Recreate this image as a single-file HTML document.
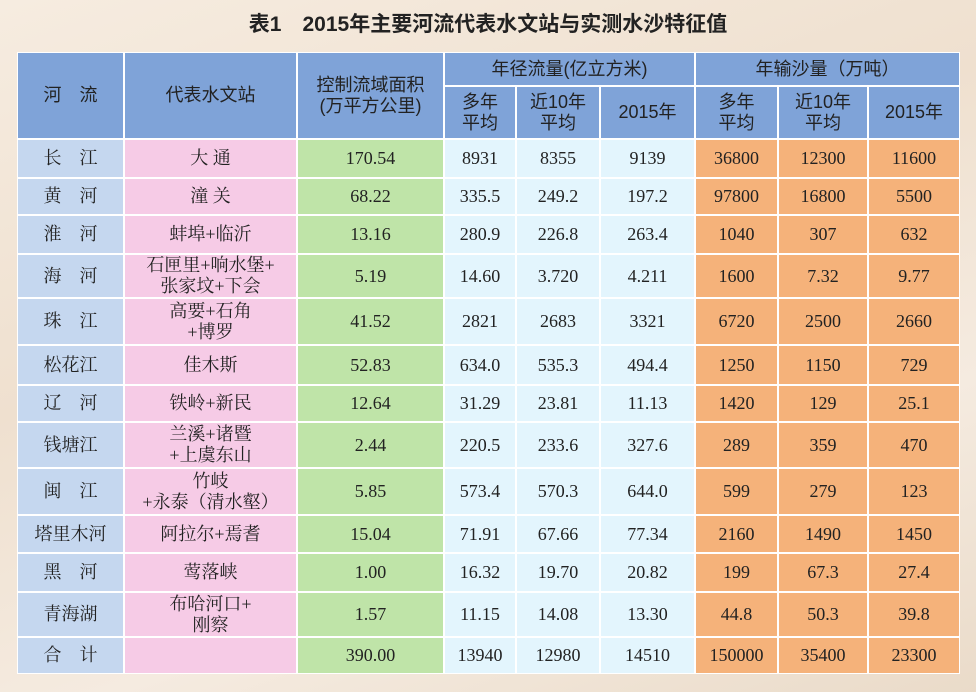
<!DOCTYPE html>
<html><head><meta charset="utf-8"><style>
body{margin:0;width:976px;height:692px;overflow:hidden;background:linear-gradient(160deg,#f6ece0 0%,#efe0cf 40%,#f5ebe0 70%,#eadbc9 100%);position:relative;font-family:"Liberation Serif","Noto Serif CJK SC",serif;}
.t{position:absolute;top:8px;left:0;width:976px;text-align:center;font:bold 21px "Liberation Sans","Noto Sans CJK SC",sans-serif;color:#222;}
.c{position:absolute;box-sizing:border-box;border:1px solid #fff;display:flex;align-items:center;justify-content:center;text-align:center;font-size:18px;color:#222;line-height:21px;}
.h{background:#7fa3d8;font-family:"Liberation Sans","Noto Sans CJK SC",sans-serif;}
</style></head><body>
<div class="t">表1　2015年主要河流代表水文站与实测水沙特征值</div>
<div id="g"></div>
<script>
const X=[17,124,297,444,516,600,695,778,868,960];
const Y=[139,178,215,254,298,345,385,422,468,515,553,592,637,674];
const g=document.getElementById('g');
function cell(x1,y1,x2,y2,txt,cls,bg){const d=document.createElement('div');d.className='c '+(cls||'');d.style.cssText=`left:${x1}px;top:${y1}px;width:${x2-x1}px;height:${y2-y1}px;`+(bg?`background:${bg};`:'');d.innerHTML=txt;g.appendChild(d);}
cell(X[0],52,X[1],139,'河　流','h');
cell(X[1],52,X[2],139,'代表水文站','h');
cell(X[2],52,X[3],139,'控制流域面积<br>(万平方公里)','h');
cell(X[3],52,X[6],86,'年径流量(亿立方米)','h');
cell(X[6],52,X[9],86,'年输沙量（万吨）','h');
const sub=['多年<br>平均','近10年<br>平均','2015年'];
for(let i=0;i<3;i++){cell(X[3+i],86,X[4+i],139,sub[i],'h');cell(X[6+i],86,X[7+i],139,sub[i],'h');}
const R=[
['长　江','大 通','170.54','8931','8355','9139','36800','12300','11600'],
['黄　河','潼 关','68.22','335.5','249.2','197.2','97800','16800','5500'],
['淮　河','蚌埠+临沂','13.16','280.9','226.8','263.4','1040','307','632'],
['海　河','石匣里+响水堡+<br>张家坟+下会','5.19','14.60','3.720','4.211','1600','7.32','9.77'],
['珠　江','高要+石角<br>+博罗','41.52','2821','2683','3321','6720','2500','2660'],
['松花江','佳木斯','52.83','634.0','535.3','494.4','1250','1150','729'],
['辽　河','铁岭+新民','12.64','31.29','23.81','11.13','1420','129','25.1'],
['钱塘江','兰溪+诸暨<br>+上虞东山','2.44','220.5','233.6','327.6','289','359','470'],
['闽　江','竹岐<br>+永泰（清水壑）','5.85','573.4','570.3','644.0','599','279','123'],
['塔里木河','阿拉尔+焉耆','15.04','71.91','67.66','77.34','2160','1490','1450'],
['黑　河','莺落峡','1.00','16.32','19.70','20.82','199','67.3','27.4'],
['青海湖','布哈河口+<br>刚察','1.57','11.15','14.08','13.30','44.8','50.3','39.8'],
['合　计','','390.00','13940','12980','14510','150000','35400','23300']];
const BG=['#c5d7ef','#f6cbe6','#bfe4a8','#e3f5fd','#e3f5fd','#e3f5fd','#f5b27a','#f5b27a','#f5b27a'];
R.forEach((r,i)=>r.forEach((t,j)=>cell(X[j],Y[i],X[j+1],Y[i+1],t,'',BG[j])));
</script>
</body></html>
